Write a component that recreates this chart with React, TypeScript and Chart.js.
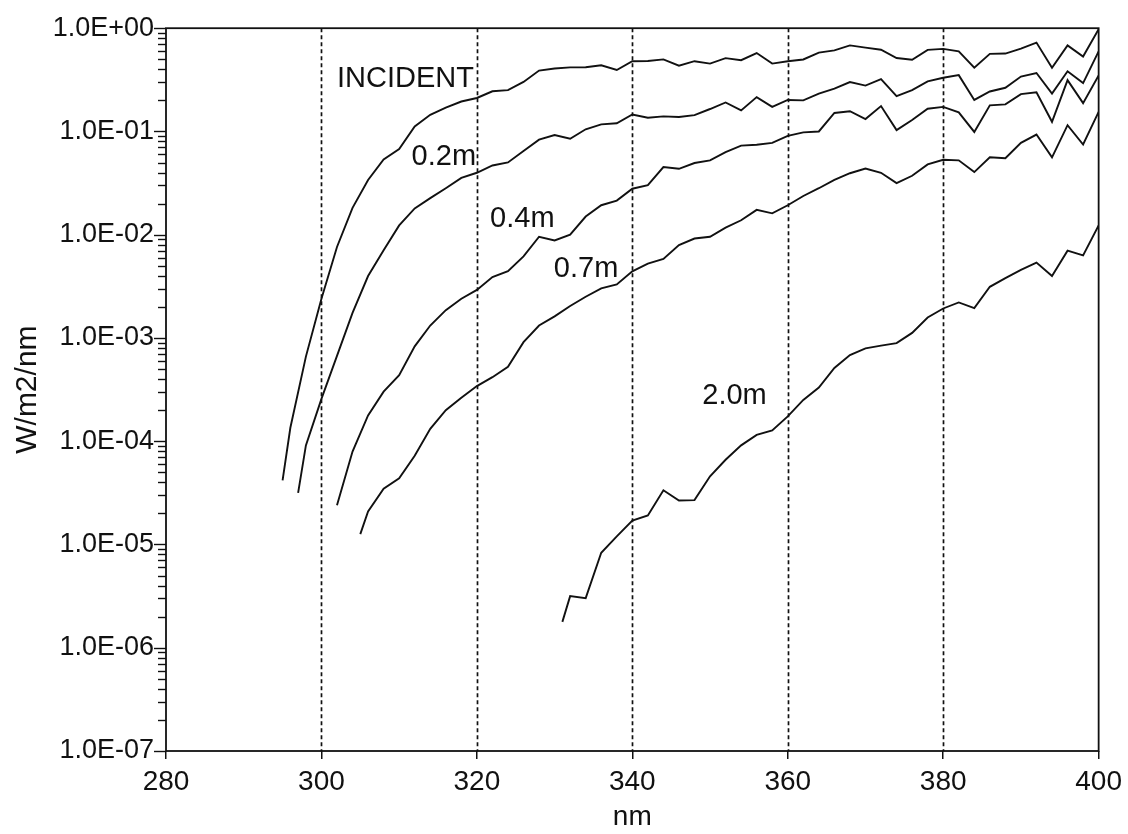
import React, { useEffect, useRef } from "react";
import { Chart, registerables } from "chart.js";

Chart.register(...registerables);

// ---- Data (wavelength in nm, irradiance in W/m2/nm) ----
const WL_INCIDENT = [295, 296, 298, 300, 302, 304, 306, 308, 310, 312, 314, 316, 318, 320, 322, 324, 326, 328, 330, 332, 334, 336, 338, 340, 342, 344, 346, 348, 350, 352, 354, 356, 358, 360, 362, 364, 366, 368, 370, 372, 374, 376, 378, 380, 382, 384, 386, 388, 390, 392, 394, 396, 398, 400];
const VAL_INCIDENT = [4.17e-5, 1.35e-4, 6.6e-4, 2.4e-3, 7.6e-3, 0.0182, 0.0339, 0.0537, 0.0676, 0.112, 0.145, 0.17, 0.195, 0.211, 0.245, 0.251, 0.302, 0.389, 0.407, 0.417, 0.419, 0.437, 0.394, 0.479, 0.481, 0.499, 0.433, 0.479, 0.454, 0.513, 0.49, 0.575, 0.454, 0.478, 0.498, 0.581, 0.61, 0.681, 0.649, 0.619, 0.514, 0.495, 0.617, 0.63, 0.597, 0.414, 0.564, 0.568, 0.634, 0.726, 0.414, 0.682, 0.531, 0.977];

const WL_02M = [297, 298, 300, 302, 304, 306, 308, 310, 312, 314, 316, 318, 320, 322, 324, 326, 328, 330, 332, 334, 336, 338, 340, 342, 344, 346, 348, 350, 352, 354, 356, 358, 360, 362, 364, 366, 368, 370, 372, 374, 376, 378, 380, 382, 384, 386, 388, 390, 392, 394, 396, 398, 400];
const VAL_02M = [3.16e-5, 9.1e-5, 2.57e-4, 6.7e-4, 1.75e-3, 3.98e-3, 7.08e-3, 0.0123, 0.018, 0.0226, 0.0282, 0.0355, 0.0398, 0.0468, 0.0501, 0.0646, 0.0832, 0.0923, 0.0851, 0.105, 0.117, 0.12, 0.146, 0.136, 0.14, 0.138, 0.144, 0.165, 0.191, 0.16, 0.215, 0.173, 0.202, 0.2, 0.232, 0.26, 0.301, 0.278, 0.321, 0.22, 0.251, 0.305, 0.331, 0.351, 0.202, 0.244, 0.265, 0.34, 0.368, 0.233, 0.383, 0.294, 0.597];

const WL_04M = [302, 304, 306, 308, 310, 312, 314, 316, 318, 320, 322, 324, 326, 328, 330, 332, 334, 336, 338, 340, 342, 344, 346, 348, 350, 352, 354, 356, 358, 360, 362, 364, 366, 368, 370, 372, 374, 376, 378, 380, 382, 384, 386, 388, 390, 392, 394, 396, 398, 400];
const VAL_04M = [2.4e-5, 7.94e-5, 1.78e-4, 3.02e-4, 4.37e-4, 8.3e-4, 1.32e-3, 1.86e-3, 2.4e-3, 2.92e-3, 3.89e-3, 4.43e-3, 6.17e-3, 9.55e-3, 8.81e-3, 0.01, 0.015, 0.0193, 0.0214, 0.0279, 0.0302, 0.0452, 0.0435, 0.0495, 0.0525, 0.0631, 0.0729, 0.0743, 0.0776, 0.0906, 0.098, 0.1, 0.151, 0.157, 0.132, 0.176, 0.103, 0.129, 0.166, 0.173, 0.153, 0.0989, 0.179, 0.183, 0.23, 0.24, 0.124, 0.314, 0.188, 0.348];

const WL_07M = [305, 306, 308, 310, 312, 314, 316, 318, 320, 322, 324, 326, 328, 330, 332, 334, 336, 338, 340, 342, 344, 346, 348, 350, 352, 354, 356, 358, 360, 362, 364, 366, 368, 370, 372, 374, 376, 378, 380, 382, 384, 386, 388, 390, 392, 394, 396, 398, 400];
const VAL_07M = [1.26e-5, 2.09e-5, 3.47e-5, 4.37e-5, 7.24e-5, 1.32e-4, 2.0e-4, 2.63e-4, 3.42e-4, 4.17e-4, 5.25e-4, 9.1e-4, 1.32e-3, 1.62e-3, 2.04e-3, 2.51e-3, 3.02e-3, 3.3e-3, 4.42e-3, 5.25e-3, 5.82e-3, 7.94e-3, 9.18e-3, 9.55e-3, 0.0117, 0.0138, 0.0174, 0.0161, 0.0193, 0.0237, 0.0282, 0.034, 0.0394, 0.0437, 0.0398, 0.0316, 0.0372, 0.0479, 0.0532, 0.0525, 0.0404, 0.0562, 0.055, 0.0776, 0.0933, 0.0562, 0.115, 0.0748, 0.155];

const WL_20M = [331, 332, 334, 336, 338, 340, 342, 344, 346, 348, 350, 352, 354, 356, 358, 360, 362, 364, 366, 368, 370, 372, 374, 376, 378, 380, 382, 384, 386, 388, 390, 392, 394, 396, 398, 400];
const VAL_20M = [1.78e-6, 3.16e-6, 3.02e-6, 8.32e-6, 1.2e-5, 1.7e-5, 1.91e-5, 3.35e-5, 2.67e-5, 2.69e-5, 4.57e-5, 6.61e-5, 9.12e-5, 1.15e-4, 1.27e-4, 1.74e-4, 2.51e-4, 3.31e-4, 5.13e-4, 6.84e-4, 7.94e-4, 8.43e-4, 8.91e-4, 1.12e-3, 1.58e-3, 1.93e-3, 2.21e-3, 1.95e-3, 3.13e-3, 3.8e-3, 4.57e-3, 5.37e-3, 3.98e-3, 7.0e-3, 6.31e-3, 0.0123];

const SERIES_WL = [WL_INCIDENT, WL_02M, WL_04M, WL_07M, WL_20M];
const SERIES_VAL = [VAL_INCIDENT, VAL_02M, VAL_04M, VAL_07M, VAL_20M];
const SERIES_NAMES = ["INCIDENT", "0.2m", "0.4m", "0.7m", "2.0m"];

// In-plot curve labels (anchor: left edge / baseline, in data coordinates)
const LABEL_WL = [302, 311.6, 321.7, 329.9, 349.0];
const LABEL_VAL = [0.269, 0.0472, 0.01194, 0.00387, 0.000229];

// Axes
const X_MIN = 280;
const X_MAX = 400;
const X_STEP = 20;
const GRID_X = [300, 320, 340, 360, 380];
const Y_MIN = 1e-7;
const Y_MAX = 1;
const Y_DECADES = [-7, -6, -5, -4, -3, -2, -1, 0];
const Y_MANTISSAS = [1, 2, 3, 4, 5, 6, 7, 8, 9];

const FONT = "'Liberation Sans', Arial, Helvetica, sans-serif";
const INK = "#111111";

function fmtDecade(value: number): string {
  const e = Math.round(Math.log10(value));
  if (Math.abs(value / Math.pow(10, e) - 1) > 1e-6) return "";
  const sign = e < 0 ? "-" : "+";
  return "1.0E" + sign + String(Math.abs(e)).padStart(2, "0");
}

const decorPlugin = {
  id: "decor",
  beforeDatasetsDraw(chart: any) {
    const { ctx, chartArea, scales } = chart;
    const xs = scales.x;
    ctx.save();
    ctx.strokeStyle = INK;
    ctx.lineWidth = 1.7;
    ctx.setLineDash([4, 3]);
    GRID_X.forEach((v) => {
      const px = Math.round(xs.getPixelForValue(v)) + 0.5;
      ctx.beginPath();
      ctx.moveTo(px, chartArea.top);
      ctx.lineTo(px, chartArea.bottom);
      ctx.stroke();
    });
    ctx.restore();
  },
  afterDatasetsDraw(chart: any) {
    const { ctx, chartArea, scales } = chart;
    const xs = scales.x;
    const ys = scales.y;
    ctx.save();
    // frame
    ctx.strokeStyle = INK;
    ctx.lineWidth = 1.8;
    ctx.setLineDash([]);
    ctx.strokeRect(chartArea.left, chartArea.top, chartArea.right - chartArea.left, chartArea.bottom - chartArea.top);
    // y ticks (major and minor)
    ctx.lineWidth = 1.4;
    ys.ticks.forEach((t: any) => {
      const py = Math.round(ys.getPixelForValue(t.value)) + 0.5;
      const major = fmtDecade(t.value) !== "";
      const len = major ? 12 : 8;
      ctx.beginPath();
      ctx.moveTo(chartArea.left, py);
      ctx.lineTo(chartArea.left - len, py);
      ctx.stroke();
    });
    // curve labels
    ctx.fillStyle = INK;
    ctx.font = "29px " + FONT;
    ctx.textAlign = "left";
    ctx.textBaseline = "alphabetic";
    SERIES_NAMES.forEach((name, i) => {
      ctx.fillText(name, xs.getPixelForValue(LABEL_WL[i]), ys.getPixelForValue(LABEL_VAL[i]));
    });
    ctx.restore();
  },
};

export default function App() {
  const canvasRef = useRef<HTMLCanvasElement | null>(null);

  useEffect(() => {
    const canvas = canvasRef.current;
    if (!canvas) return;
    const datasets = SERIES_NAMES.map((name, i) => ({
      label: name,
      data: SERIES_WL[i].map((w, j) => ({ x: w, y: SERIES_VAL[i][j] })),
      borderColor: INK,
      borderWidth: 1.9,
      pointRadius: 0,
      fill: false,
      tension: 0,
    }));
    const chart = new Chart(canvas, {
      type: "line",
      data: { datasets },
      plugins: [decorPlugin],
      options: {
        animation: false,
        responsive: false,
        devicePixelRatio: 1,
        layout: { padding: { left: 0, top: 22, right: 23, bottom: 0 } },
        plugins: {
          legend: { display: false },
          tooltip: { enabled: false },
        },
        scales: {
          x: {
            type: "linear",
            min: X_MIN,
            max: X_MAX,
            border: { display: false },
            grid: {
              display: true,
              drawOnChartArea: false,
              drawTicks: true,
              tickLength: 8,
              color: INK,
              lineWidth: 1.5,
            },
            ticks: {
              stepSize: X_STEP,
              autoSkip: false,
              maxRotation: 0,
              padding: 6,
              color: INK,
              font: { family: FONT, size: 28 },
            },
            title: {
              display: true,
              text: "nm",
              color: INK,
              font: { family: FONT, size: 28 },
              padding: { top: 0, bottom: 0 },
            },
            afterFit: (s: any) => {
              s.height = 83;
            },
          },
          y: {
            type: "logarithmic",
            min: Y_MIN,
            max: Y_MAX,
            border: { display: false },
            grid: { display: false, drawTicks: false },
            afterBuildTicks: (s: any) => {
              const t: any[] = [];
              Y_DECADES.forEach((e) => {
                Y_MANTISSAS.forEach((m) => {
                  const v = m * Math.pow(10, e);
                  if (v <= Y_MAX * (1 + 1e-9) && v >= Y_MIN * (1 - 1e-9)) t.push({ value: v });
                });
              });
              s.ticks = t;
            },
            ticks: {
              autoSkip: false,
              padding: 12,
              color: INK,
              font: { family: FONT, size: 27 },
              callback: (value: any) => fmtDecade(Number(value)),
            },
            title: {
              display: true,
              text: "W/m2/nm",
              color: INK,
              font: { family: FONT, size: 30 },
              padding: { top: 10, bottom: 0 },
            },
            afterFit: (s: any) => {
              s.width = 166;
            },
          },
        },
      },
    } as any);
    return () => chart.destroy();
  }, []);

  return (
    <div style={{ position: "fixed", left: 0, top: 0, width: 1128, height: 834, background: "#fff" }}>
      <canvas ref={canvasRef} width={1128} height={834} style={{ display: "block" }} />
    </div>
  );
}
